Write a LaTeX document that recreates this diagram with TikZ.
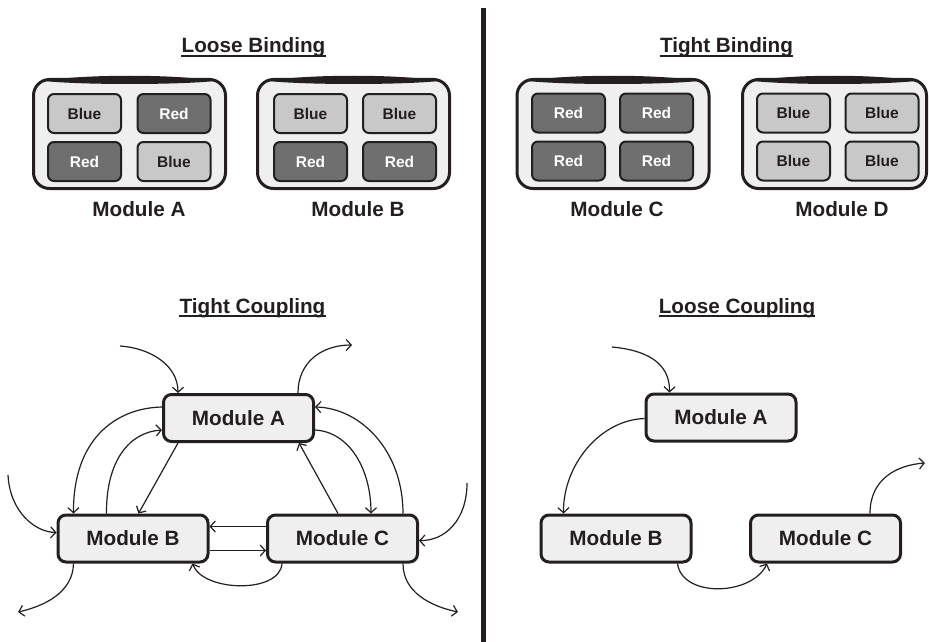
\documentclass[tikz,border=0pt]{standalone}
\usepackage{fontspec}
\setmainfont{Liberation Sans}
\usetikzlibrary{arrows.meta,calc}
\definecolor{ink}{HTML}{231F20}
\definecolor{panel}{HTML}{EFEFEF}
\definecolor{bluebox}{HTML}{C8C8C8}
\definecolor{redbox}{HTML}{6F6F6F}
\begin{document}
\begin{tikzpicture}[x=1pt,y=-1pt,
  container/.style={draw=ink,line width=3pt,fill=panel,rounded corners=16pt,minimum width=192pt,minimum height=109pt,inner sep=0pt},
  cell/.style={draw=ink,line width=2pt,rounded corners=6pt,minimum width=73pt,minimum height=39pt,inner sep=0pt,font=\fontsize{15.5}{18}\selectfont\bfseries},
  bluecell/.style={cell,fill=bluebox,text=ink},
  redcell/.style={cell,fill=redbox,text=white},
  modlabel/.style={font=\fontsize{20.7}{24}\selectfont\bfseries,text=ink,anchor=base,inner sep=0pt},
  title/.style={modlabel},
  uline/.style={draw=ink,line width=1.5pt},
  module/.style={draw=ink,line width=3pt,fill=panel,rounded corners=8pt,minimum width=150pt,minimum height=47pt,font=\fontsize{20.7}{24}\selectfont\bfseries,text=ink},
  conn/.style={draw=ink,line width=1.2pt,-{Straight Barb[length=5pt,width=11pt]}},
  plainconn/.style={draw=ink,line width=1.2pt},
  bevel/.style={fill=ink}
]
\useasboundingbox (0,0) rectangle (929,642);

% divider
\coordinate (d1) at (483.5,8);
\coordinate (d2) at (483.5,642);
\draw[ink,line width=5pt] (d1) -- (d2);

% titles
\node[title] (t1) at (253.5,53) {Loose Binding};
\draw[uline] ([yshift=-3pt]t1.base west) -- ([yshift=-3pt]t1.base east);
\node[title] (t2) at (726.5,53) {Tight Binding};
\draw[uline] ([yshift=-3pt]t2.base west) -- ([yshift=-3pt]t2.base east);
\node[title] (t3) at (252.5,313) {Tight Coupling};
\draw[uline] ([yshift=-3pt]t3.base west) -- ([yshift=-3pt]t3.base east);
\node[title] (t4) at (737,313) {Loose Coupling};
\draw[uline] ([yshift=-3pt]t4.base west) -- ([yshift=-3pt]t4.base east);

% containers
\node[container] (cA) at (129.5,134) {};
\node[container] (cB) at (353.5,134) {};
\node[container] (cC) at (613,134) {};
\node[container,minimum width=184pt] (cD) at (834.5,134) {};
\foreach \c in {cA,cB,cC,cD}{
  \fill[bevel] ($(\c.north west)+(12,3)$) .. controls ($(\c.north west)+(50,-4)$) and ($(\c.north east)+(-50,-4)$) .. ($(\c.north east)+(-12,3)$)
     .. controls ($(\c.north east)+(-50,7)$) and ($(\c.north west)+(50,7)$) .. cycle;
}

% cells
\node[bluecell] (a11) at (84.5,113.5) {Blue};
\node[redcell]  (a12) at (174,113.5) {Red};
\node[redcell]  (a21) at (84.5,161.5) {Red};
\node[bluecell] (a22) at (174,161.5) {Blue};

\node[bluecell] (b11) at (310.5,113.5) {Blue};
\node[bluecell] (b12) at (399.5,113.5) {Blue};
\node[redcell]  (b21) at (310.5,161.5) {Red};
\node[redcell]  (b22) at (399.5,161.5) {Red};

\node[redcell] (c11) at (568.5,113) {Red};
\node[redcell] (c12) at (656.5,113) {Red};
\node[redcell] (c21) at (568.5,161) {Red};
\node[redcell] (c22) at (656.5,161) {Red};

\node[bluecell] (e11) at (793.5,113) {Blue};
\node[bluecell] (e12) at (882,113) {Blue};
\node[bluecell] (e21) at (793.5,161) {Blue};
\node[bluecell] (e22) at (882,161) {Blue};

\node[modlabel] (lbA) at (139,216) {Module A};
\node[modlabel] (lbB) at (358,216) {Module B};
\node[modlabel] (lbC) at (617,216) {Module C};
\node[modlabel] (lbD) at (842,216) {Module D};

% tight coupling
\node[module] (tA) at (238.5,418) {Module A};
\node[module] (tB) at (133,538.5) {Module B};
\node[module] (tC) at (342.5,538.5) {Module C};

\coordinate (in1) at (120,346);
\coordinate (out1) at (352,345);
\coordinate (in2) at (8,475);
\coordinate (in3) at (467,483);
\coordinate (out2) at (18,612);
\coordinate (out3) at (458,612);

\draw[conn] (in1) .. controls (150,348) and (178,365) .. ($(tA.north west)+(16,0)$);
\draw[conn] ($(tA.north east)+(-17,0)$) .. controls (298,362) and (322,345) .. (out1);
\draw[conn] ($(tA.north west)+(0,14)$) .. controls (115,408) and (73,440) .. ($(tB.north west)+(17,0)$);
\draw[conn] ($(tB.north west)+(50,0)$) .. controls (106,460) and (130,432) .. ($(tA.north west)+(0,37)$);
\draw[conn] ($(tA.south west)+(16,0)$) -- ($(tB.north west)+(82,0)$);
\draw[conn] ($(tC.north west)+(72,0)$) -- ($(tA.south east)+(-16,0)$);
\draw[conn] ($(tA.north east)+(0,37)$) .. controls (350,432) and (371,470) .. ($(tC.north west)+(105,0)$);
\draw[conn] ($(tC.north east)+(-16,0)$) .. controls (403,450) and (360,408) .. ($(tA.north east)+(0,14)$);
\draw[conn] (in2) .. controls (10,512) and (35,532) .. ($(tB.north west)+(0,19)$);
\draw[conn] (in3) .. controls (467,520) and (445,541) .. ($(tC.north east)+(0,27)$);
\draw[conn] ($(tC.north west)+(0,13)$) -- ($(tB.north east)+(0,13)$);
\draw[conn] ($(tB.north east)+(0,37)$) -- ($(tC.north west)+(0,37)$);
\draw[conn] ($(tC.south west)+(16,0)$) .. controls (280,594) and (203,592) .. ($(tB.south east)+(-17,0)$);
\draw[conn] ($(tB.south west)+(17,0)$) .. controls (73,592) and (45,606) .. (out2);
\draw[conn] ($(tC.south east)+(-16,0)$) .. controls (403,592) and (430,606) .. (out3);

% loose coupling
\node[module] (lA) at (721,417.5) {Module A};
\node[module] (lB) at (616,538.5) {Module B};
\node[module] (lC) at (825.5,538.5) {Module C};

\coordinate (in4) at (612,347);
\coordinate (out4) at (925,463);

\draw[conn] (in4) .. controls (645,350) and (670,362) .. ($(lA.north west)+(25,0)$);
\draw[conn] ($(lA.north west)+(0,26)$) .. controls (600,420) and (563,465) .. ($(lB.north west)+(24,0)$);
\draw[conn] ($(lB.south east)+(-15,0)$) .. controls (682,598) and (752,596) .. ($(lC.south west)+(18,0)$);
\draw[conn] ($(lC.north west)+(121,0)$) .. controls (870,478) and (898,465) .. (out4);
\end{tikzpicture}
\end{document}
